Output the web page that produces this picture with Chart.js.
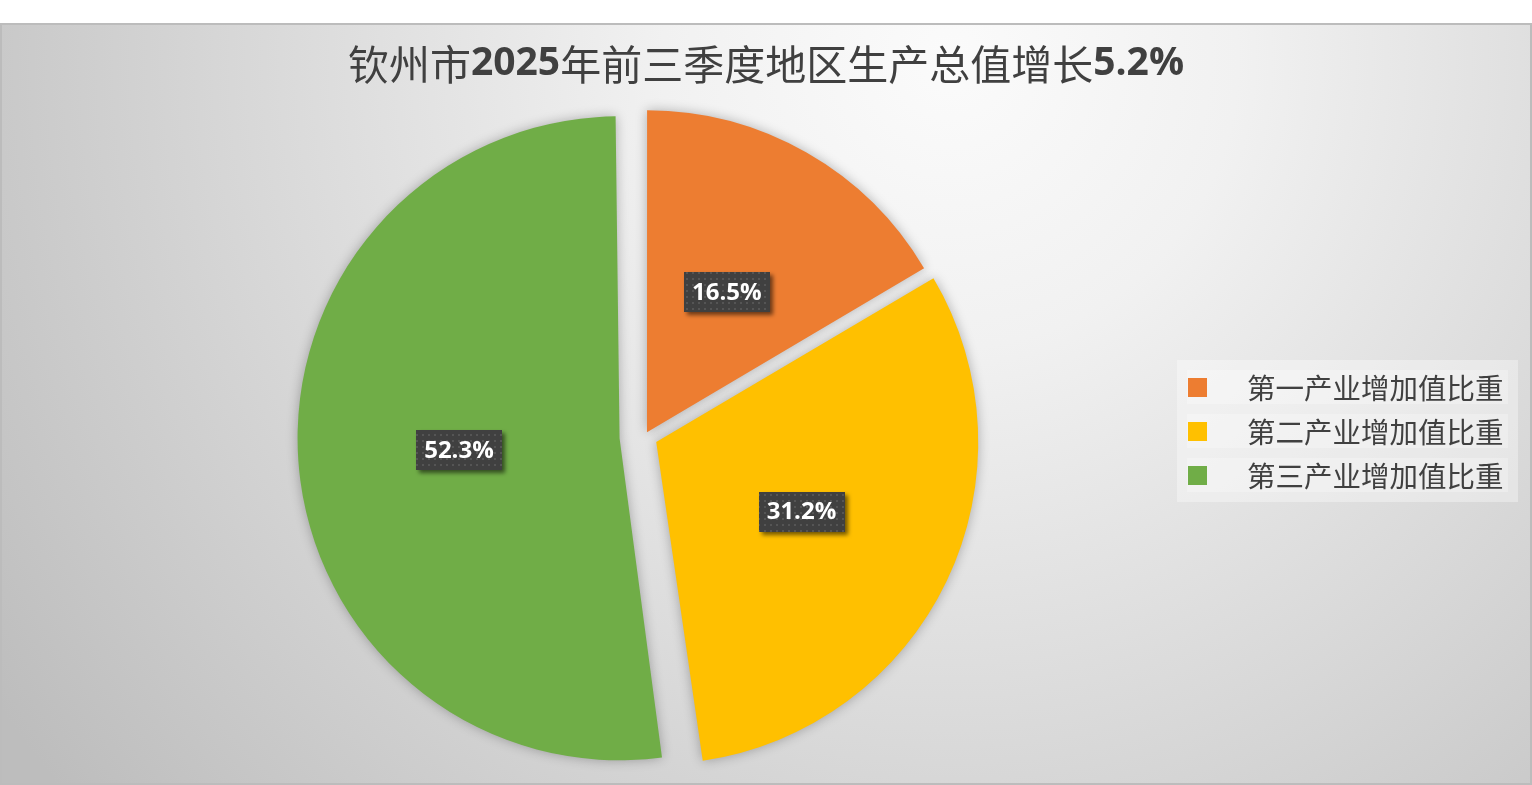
<!DOCTYPE html>
<html><head><meta charset="utf-8">
<script src="https://cdn.jsdelivr.net/npm/chart.js@4/dist/chart.umd.min.js"></script>
<style>
html,body{margin:0;padding:0;background:#fff;}
#wrap{position:relative;width:1532px;height:785px;overflow:hidden;}
canvas{position:absolute;left:0;top:0;}
#legend{position:absolute;left:1177px;top:360px;width:341px;height:142px;background:rgba(255,255,255,0.35);}
.row{position:absolute;left:10px;width:321px;height:34px;background:rgba(255,255,255,0.25);}
.sw{position:absolute;left:1px;top:8px;width:19px;height:19px;}
.tx{position:absolute;left:60px;top:0;line-height:34px;font-family:"Noto Sans CJK SC";font-size:28.5px;color:#404040;white-space:nowrap;}
</style></head>
<body><div id="wrap"><canvas id="c" width="1532" height="785"></canvas><div id="legend"></div></div>
<script>
const TITLE = '钦州市2025年前三季度地区生产总值增长5.2%';
const categories = ['第一产业增加值比重', '第二产业增加值比重', '第三产业增加值比重'];
const shares = [16.5, 31.2, 52.3];
const valueLabels = ['16.5%', '31.2%', '52.3%'];
const colors = ['#ED7D31', '#FFC000', '#70AD47'];
const explode = [20, 52, 100];

// HTML legend
const lg = document.getElementById('legend');
categories.forEach((c, i) => {
  const r = document.createElement('div');
  r.className = 'row';
  r.style.top = (10 + i * 44) + 'px';
  const s = document.createElement('div');
  s.className = 'sw'; s.style.background = colors[i];
  const t = document.createElement('div');
  t.className = 'tx'; t.textContent = c;
  r.appendChild(s); r.appendChild(t); lg.appendChild(r);
});

const bgPlugin = {
  id: 'bg',
  beforeDraw(chart) {
    const {ctx, width} = chart;
    ctx.save();
    ctx.fillStyle = '#fff';
    ctx.fillRect(0, 0, width, chart.height);
    const top = 23, bottom = 785;
    const g = ctx.createRadialGradient(950, 60, 0, 950, 60, 1150);
    g.addColorStop(0, '#fbfbfb');
    g.addColorStop(0.25, '#f1f1f1');
    g.addColorStop(1, '#bdbdbd');
    ctx.fillStyle = g;
    ctx.fillRect(0, top, width, bottom - top);
    ctx.strokeStyle = '#bcbcbc';
    ctx.lineWidth = 2;
    ctx.strokeRect(1, top + 1, width - 2, bottom - top - 2);
    // title with bold digits
    const parts = TITLE.split(/([0-9.%]+)/).filter(p => p.length);
    const fontFor = p => /^[0-9.%]+$/.test(p) ? 'bold 39px "Open Sans"' : 'normal 41px "Noto Sans CJK SC"';
    let total = 0;
    parts.forEach(p => { ctx.font = fontFor(p); total += ctx.measureText(p).width; });
    let x = width / 2 - total / 2;
    ctx.fillStyle = '#404040';
    ctx.textBaseline = 'middle';
    ctx.textAlign = 'left';
    parts.forEach(p => { ctx.font = fontFor(p); ctx.fillText(p, x, 64); x += ctx.measureText(p).width; });
    ctx.restore();
  }
};

// keep exploded slices at the same radius (Excel-style explosion)
const radiusFix = {
  id: 'radiusFix',
  afterDatasetUpdate(chart, args) {
    args.meta.data.forEach(arc => {
      const off = (arc.options.offset || 0) / 4;
      const fix = 1 - Math.sin(Math.min(Math.PI, arc.circumference || 0));
      arc.outerRadius = arc.outerRadius - off * fix;
    });
  }
};

const shadowLabels = {
  id: 'shadowLabels',
  beforeDatasetsDraw(chart) {
    const ctx = chart.ctx;
    ctx.save();
    ctx.shadowColor = 'rgba(0,0,0,0.28)';
    ctx.shadowBlur = 12;
    ctx.shadowOffsetX = 0;
    ctx.shadowOffsetY = 0;
  },
  afterDatasetsDraw(chart) {
    const ctx = chart.ctx;
    ctx.restore();
    const pc = document.createElement('canvas');
    pc.width = 6; pc.height = 6;
    const p = pc.getContext('2d');
    p.fillStyle = '#404040'; p.fillRect(0, 0, 6, 6);
    p.fillStyle = '#555555'; p.fillRect(2, 2, 2, 2);
    const pattern = ctx.createPattern(pc, 'repeat');
    const meta = chart.getDatasetMeta(0);
    meta.data.forEach((arc, i) => {
      const off = (arc.options.offset || 0) / 4;
      const fix = 1 - Math.sin(Math.min(Math.PI, arc.circumference || 0));
      const R = arc.outerRadius + off * fix;
      const mid = (arc.startAngle + arc.endAngle) / 2;
      const d = off + R / 2;
      const cx = arc.x + Math.cos(mid) * d;
      const cy = arc.y + Math.sin(mid) * d;
      ctx.save();
      ctx.font = 'bold 24px "Open Sans"';
      const w = ctx.measureText(valueLabels[i]).width + 16;
      const h = 40;
      ctx.shadowColor = 'rgba(0,0,0,0.55)';
      ctx.shadowBlur = 4;
      ctx.shadowOffsetX = 3;
      ctx.shadowOffsetY = 3;
      ctx.fillStyle = pattern;
      ctx.fillRect(Math.round(cx - w / 2), Math.round(cy - h / 2), Math.round(w), h);
      ctx.shadowColor = 'transparent';
      ctx.fillStyle = '#ffffff';
      ctx.textAlign = 'center';
      ctx.textBaseline = 'middle';
      ctx.fillText(valueLabels[i], cx, cy + 1);
      ctx.restore();
    });
  }
};

function build() {
  new Chart(document.getElementById('c'), {
    type: 'pie',
    data: {
      labels: categories,
      datasets: [{
        data: shares,
        backgroundColor: colors,
        borderWidth: 0,
        offset: explode,
        hoverOffset: 0
      }]
    },
    options: {
      responsive: false,
      devicePixelRatio: 1,
      animation: false,
      events: [],
      radius: 322,
      layout: {padding: {left: 0, right: 243, top: 88, bottom: 0}},
      plugins: {legend: {display: false}, title: {display: false}, tooltip: {enabled: false}}
    },
    plugins: [bgPlugin, radiusFix, shadowLabels]
  });
}
Promise.all([
  document.fonts.load('41px "Noto Sans CJK SC"', TITLE),
  document.fonts.load('bold 39px "Open Sans"', '2025'),
  document.fonts.load('bold 24px "Open Sans"', '16.5%')
]).then(build, build);
</script>
</body></html>
